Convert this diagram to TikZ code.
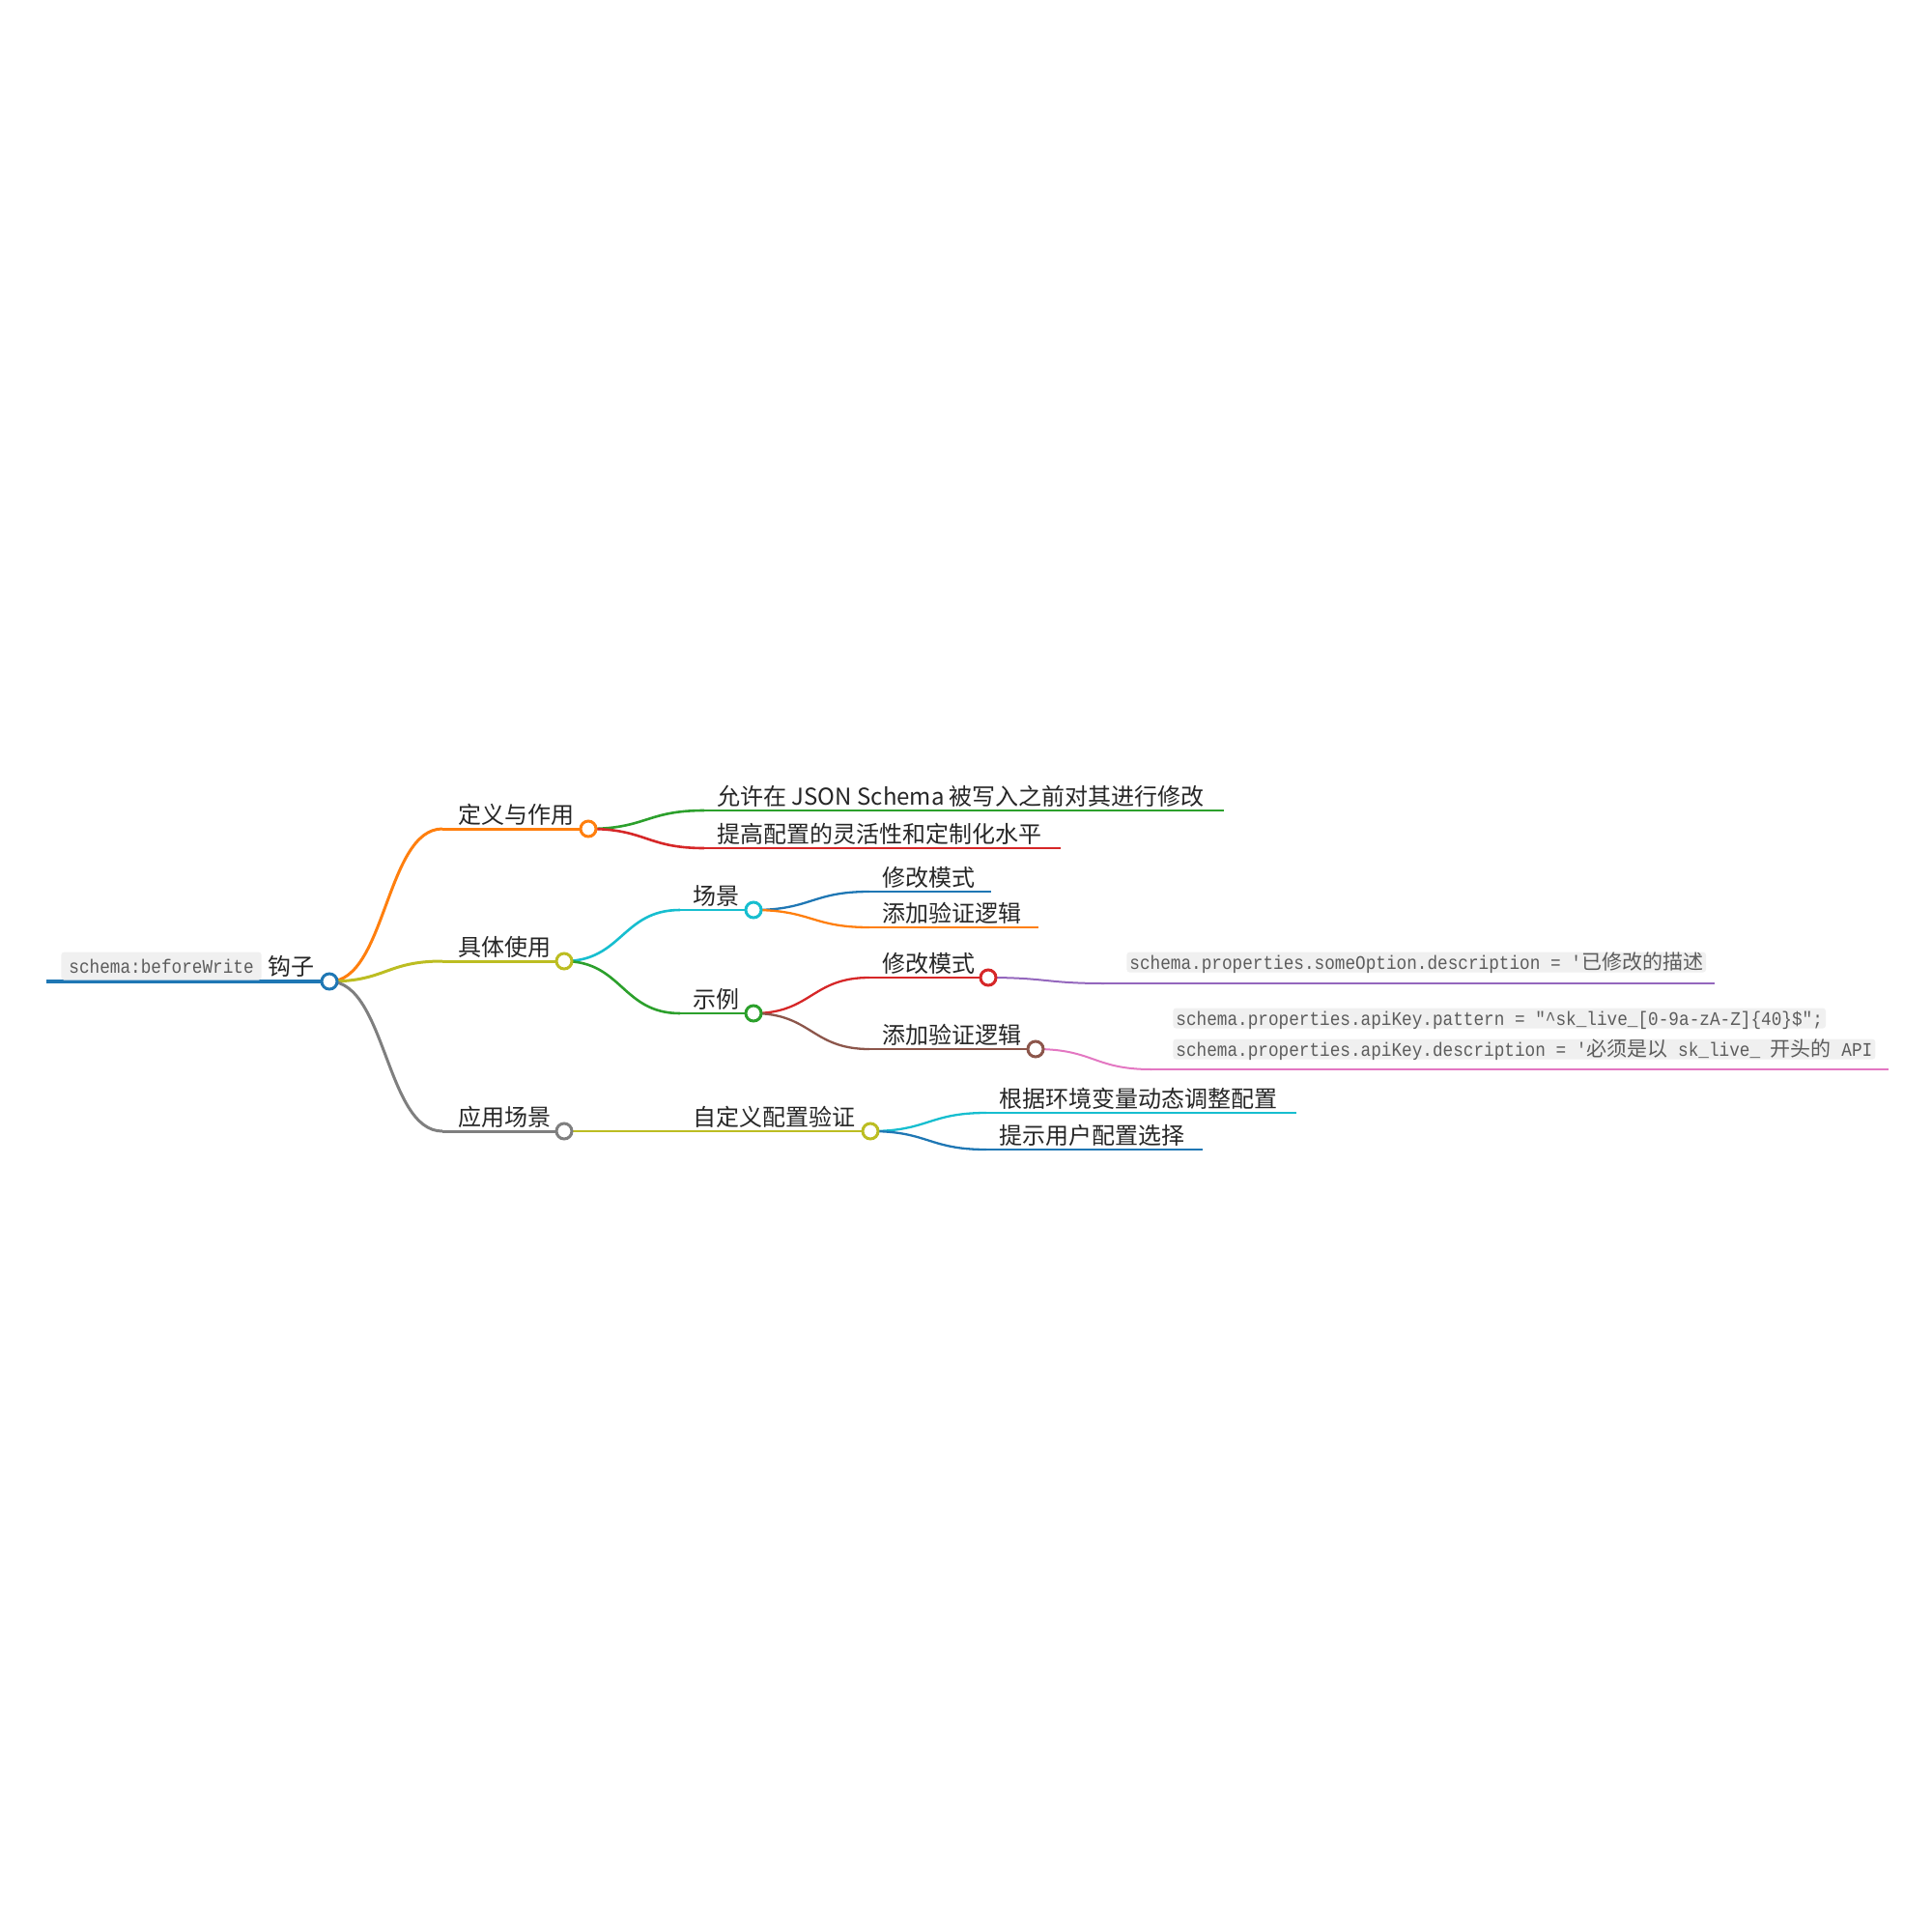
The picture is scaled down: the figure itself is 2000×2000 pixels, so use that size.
\documentclass[tikz,border=0pt]{standalone}
\usepackage{fontspec}
\newfontfamily\cjk{Noto Sans CJK SC}
\newfontfamily\codefont[FakeStretch=0.89]{Liberation Mono}
\usetikzlibrary{calc,positioning}

\definecolor{mmblue}{HTML}{1F77B4}
\definecolor{mmorange}{HTML}{FF7F0E}
\definecolor{mmgreen}{HTML}{2CA02C}
\definecolor{mmred}{HTML}{D62728}
\definecolor{mmpurple}{HTML}{9467BD}
\definecolor{mmbrown}{HTML}{8C564B}
\definecolor{mmpink}{HTML}{E377C2}
\definecolor{mmgray}{HTML}{7F7F7F}
\definecolor{mmolive}{HTML}{BCBD22}
\definecolor{mmcyan}{HTML}{17BECF}
\definecolor{codebg}{HTML}{F0F0F0}
\definecolor{codefg}{HTML}{5C5C5C}

% curved branch between two points, flat at both ends
\newcommand\mmlink[3]{\draw[#3] let \p1=(#1), \p2=(#2) in (\p1) .. controls ({0.5*\x1+0.5*\x2},\y1) and ({0.5*\x1+0.5*\x2},\y2) .. (\p2);}
\newcommand\cz[1]{{\cjk\fontsize{10.5}{12}\selectfont #1}}

\tikzset{
	lbl/.style={anchor=base west,inner sep=0pt,text=black!85,font=\cjk\fontsize{12}{14}\selectfont},
	codebox/.style={anchor=south west,fill=codebg,rounded corners=1.5pt,inner xsep=1.5pt,inner ysep=0.75pt,text height=8pt,text depth=1pt,text=codefg,font=\codefont\fontsize{9.95}{12}\selectfont},
	dot/.style={circle,draw=#1,fill=white,line width=1.5pt,minimum size=8pt,inner sep=0pt},
	lv0/.style={line width=2pt},
	lv1/.style={line width=1.5pt},
	lv2/.style={line width=1.3pt},
	lv3/.style={line width=1.15pt},
	lv4/.style={line width=1pt}
}

\begin{document}
\begin{tikzpicture}[x=0.5pt,y=-0.5pt]
	
	\useasboundingbox (0,0) rectangle (2000,2000);
	
	% line starts and ends
	\coordinate (r0s) at (48,1016);    \coordinate (r0e) at (341,1016);
	\coordinate (n1s) at (458,858);    \coordinate (n1e) at (609,858);
	\coordinate (n11s) at (729,839);   \coordinate (n11e) at (1267,839);
	\coordinate (n12s) at (729,878);   \coordinate (n12e) at (1098,878);
	\coordinate (n2s) at (458,995);    \coordinate (n2e) at (584,995);
	\coordinate (n21s) at (704,942);   \coordinate (n21e) at (780,942);
	\coordinate (n211s) at (900,923);  \coordinate (n211e) at (1026,923);
	\coordinate (n212s) at (900,960);  \coordinate (n212e) at (1075,960);
	\coordinate (n22s) at (704,1049);  \coordinate (n22e) at (780,1049);
	\coordinate (n221s) at (900,1012); \coordinate (n221e) at (1023,1012);
	\coordinate (n2211s) at (1143,1018); \coordinate (n2211e) at (1775,1018);
	\coordinate (n222s) at (900,1086); \coordinate (n222e) at (1072,1086);
	\coordinate (n2221s) at (1192,1107); \coordinate (n2221e) at (1955,1107);
	\coordinate (n3s) at (458,1171);   \coordinate (n3e) at (584,1171);
	\coordinate (n31s) at (704,1171);  \coordinate (n31e) at (901,1171);
	\coordinate (n311s) at (1021,1152); \coordinate (n311e) at (1342,1152);
	\coordinate (n312s) at (1021,1190); \coordinate (n312e) at (1245,1190);
	
	% underlines
	\draw[lv0,mmblue] (r0s) -- (r0e);
	\draw[lv1,mmorange] (n1s) -- (n1e);
	\draw[lv2,mmgreen] (n11s) -- (n11e);
	\draw[lv2,mmred] (n12s) -- (n12e);
	\draw[lv1,mmolive] (n2s) -- (n2e);
	\draw[lv2,mmcyan] (n21s) -- (n21e);
	\draw[lv3,mmblue] (n211s) -- (n211e);
	\draw[lv3,mmorange] (n212s) -- (n212e);
	\draw[lv2,mmgreen] (n22s) -- (n22e);
	\draw[lv3,mmred] (n221s) -- (n221e);
	\draw[lv4,mmpurple] (n2211s) -- (n2211e);
	\draw[lv3,mmbrown] (n222s) -- (n222e);
	\draw[lv4,mmpink] (n2221s) -- (n2221e);
	\draw[lv1,mmgray] (n3s) -- (n3e);
	\draw[lv2,mmolive] (n31s) -- (n31e);
	\draw[lv3,mmcyan] (n311s) -- (n311e);
	\draw[lv3,mmblue] (n312s) -- (n312e);
	
	% branches
	\mmlink{r0e}{n1s}{lv1,mmorange}
	\mmlink{r0e}{n2s}{lv1,mmolive}
	\mmlink{r0e}{n3s}{lv1,mmgray}
	\mmlink{n1e}{n11s}{lv2,mmgreen}
	\mmlink{n1e}{n12s}{lv2,mmred}
	\mmlink{n2e}{n21s}{lv2,mmcyan}
	\mmlink{n2e}{n22s}{lv2,mmgreen}
	\mmlink{n21e}{n211s}{lv3,mmblue}
	\mmlink{n21e}{n212s}{lv3,mmorange}
	\mmlink{n22e}{n221s}{lv3,mmred}
	\mmlink{n22e}{n222s}{lv3,mmbrown}
	\mmlink{n221e}{n2211s}{lv4,mmpurple}
	\mmlink{n222e}{n2221s}{lv4,mmpink}
	\mmlink{n3e}{n31s}{lv2,mmolive}
	\mmlink{n31e}{n311s}{lv3,mmcyan}
	\mmlink{n31e}{n312s}{lv3,mmblue}
	
	% labels
	\node[codebox,inner xsep=4pt,inner ysep=3.75pt,text height=7pt,text depth=0pt] (r0c) at (63,1015) {schema:beforeWrite};
	\node[lbl] (r0t) at (277,1009) {钩子};
	\node[lbl] (n1t) at (474,852) {定义与作用};
	\node[lbl] (n11t) at (742,833) {允许在 JSON Schema 被写入之前对其进行修改};
	\node[lbl] (n12t) at (742,872) {提高配置的灵活性和定制化水平};
	\node[lbl] (n2t) at (474,989) {具体使用};
	\node[lbl] (n21t) at (717,936) {场景};
	\node[lbl] (n211t) at (913,917) {修改模式};
	\node[lbl] (n212t) at (913,954) {添加验证逻辑};
	\node[lbl] (n22t) at (717,1043) {示例};
	\node[lbl] (n221t) at (913,1006) {修改模式};
	\node[codebox] (n2211c) at (1166,1007) {schema.properties.someOption.description = '\cz{已修改的描述}};
	\node[lbl] (n222t) at (913,1080) {添加验证逻辑};
	\node[codebox] (n2221a) at (1214,1065) {schema.properties.apiKey.pattern = "\textasciicircum sk\_live\_[0-9a-zA-Z]\{40\}\$";};
	\node[codebox] (n2221b) at (1214,1097) {schema.properties.apiKey.description = '\cz{必须是以} sk\_live\_ \cz{开头的} API};
	\node[lbl] (n3t) at (474,1165) {应用场景};
	\node[lbl] (n31t) at (717,1165) {自定义配置验证};
	\node[lbl] (n311t) at (1034,1146) {根据环境变量动态调整配置};
	\node[lbl] (n312t) at (1034,1184) {提示用户配置选择};
	
	% circles on nodes with children
	\node[dot=mmblue] (r0) at (r0e) {};
	\node[dot=mmorange] (n1) at (n1e) {};
	\node[dot=mmolive] (n2) at (n2e) {};
	\node[dot=mmcyan] (n21) at (n21e) {};
	\node[dot=mmgreen] (n22) at (n22e) {};
	\node[dot=mmred] (n221) at (n221e) {};
	\node[dot=mmbrown] (n222) at (n222e) {};
	\node[dot=mmgray] (n3) at (n3e) {};
	\node[dot=mmolive] (n31) at (n31e) {};
	
\end{tikzpicture}
\end{document}
